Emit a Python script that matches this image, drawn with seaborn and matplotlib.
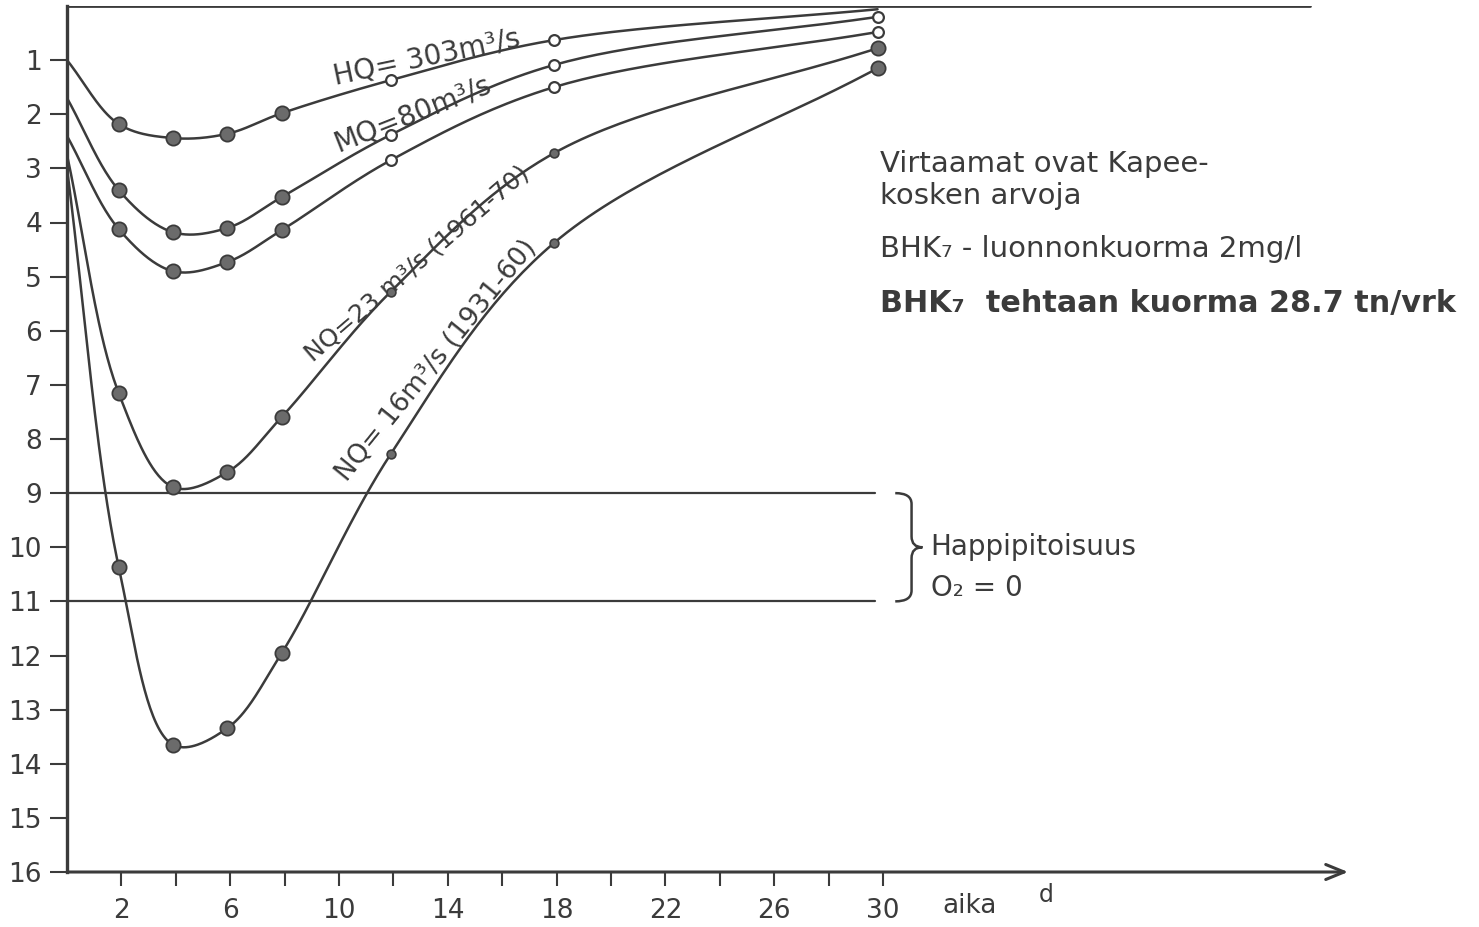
import numpy as np
import pandas as pd
import matplotlib
matplotlib.use("Agg")
import matplotlib.pyplot as plt
from matplotlib.path import Path
from matplotlib.patches import PathPatch
import seaborn as sns

# Days after the discharge point (d) and oxygen deficit (mg/l) for each flow case
days = [0.0, 1.9, 3.9, 5.9, 7.9, 11.9, 17.9, 29.8]
deficit_hq303 = [1.00, 2.18, 2.44, 2.36, 1.98, 1.37, 0.63, 0.06]
deficit_mq80 = [1.70, 3.40, 4.18, 4.10, 3.53, 2.38, 1.09, 0.20]
deficit_mid = [2.40, 4.12, 4.90, 4.73, 4.14, 2.85, 1.50, 0.48]
deficit_nq23 = [2.75, 7.15, 8.89, 8.61, 7.59, 5.28, 2.72, 0.78]
deficit_nq16 = [3.00, 10.36, 13.65, 13.34, 11.95, 8.28, 4.38, 1.15]

curve_names = ["HQ= 303m³/s", "MQ=80m³/s", "", "NQ=23 m³/s (1961-70)", "NQ= 16m³/s (1931-60)"]

y_ticks = list(range(1, 17))
x_major_ticks = [2, 6, 10, 14, 18, 22, 26, 30]
x_minor_ticks = [4, 8, 12, 16, 20, 24, 28]

saturation_level = 0
anoxic_limits = [9, 11]
anoxic_span_end = 29.7
top_line_end = 45.7
x_axis_end = 47.1

note_lines = ["Virtaamat ovat Kapee-", "kosken arvoja",
              "BHK₇ - luonnonkuorma 2mg/l", "BHK₇  tehtaan kuorma 28.7 tn/vrk"]
band_note = ["Happipitoisuus", "O₂ = 0"]
x_caption = "aika"
x_unit = "d"

sns.set_theme(style="white")
plt.rcParams["font.family"] = ["DejaVu Sans"]

ink = "#3b3b3b"
dot_face = "#6b6b6b"

fig = plt.figure(figsize=(14.79, 9.27), dpi=100)
ax = fig.add_axes([67 / 1479, 55 / 927, 1412 / 1479, 866 / 927])
ax.set_xlim(0, 1412 / 27.2)
ax.set_ylim(16, 0)
ax.set_facecolor("white")


def smooth_path(xs, ys, n=40):
    """Centripetal Catmull-Rom curve through the points, built in display space."""
    pts = ax.transData.transform(np.column_stack([xs, ys]))
    ext = np.vstack([2 * pts[0] - pts[1], pts, 2 * pts[-1] - pts[-2]])
    pieces = []
    for i in range(1, len(ext) - 2):
        p0, p1, p2, p3 = ext[i - 1:i + 3]
        t0 = 0.0
        t1 = t0 + np.linalg.norm(p1 - p0) ** 0.5
        t2 = t1 + np.linalg.norm(p2 - p1) ** 0.5
        t3 = t2 + np.linalg.norm(p3 - p2) ** 0.5
        t = np.linspace(t1, t2, n)[:, None]
        a1 = (t1 - t) / (t1 - t0) * p0 + (t - t0) / (t1 - t0) * p1
        a2 = (t2 - t) / (t2 - t1) * p1 + (t - t1) / (t2 - t1) * p2
        a3 = (t3 - t) / (t3 - t2) * p2 + (t - t2) / (t3 - t2) * p3
        b1 = (t2 - t) / (t2 - t0) * a1 + (t - t0) / (t2 - t0) * a2
        b2 = (t3 - t) / (t3 - t1) * a2 + (t - t1) / (t3 - t1) * a3
        c = (t2 - t) / (t2 - t1) * b1 + (t - t1) / (t2 - t1) * b2
        pieces.append(c if i == 1 else c[1:])
    curve = ax.transData.inverted().transform(np.vstack(pieces))
    return curve[:, 0], curve[:, 1]


series = [deficit_hq303, deficit_mq80, deficit_mid, deficit_nq23, deficit_nq16]

# Reference lines: saturation level and the anoxic band
sns.lineplot(x=[0, top_line_end], y=[saturation_level] * 2, color=ink, lw=2.0, ax=ax)
for lvl in anoxic_limits:
    sns.lineplot(x=[0, anoxic_span_end], y=[lvl, lvl], color=ink, lw=1.6, ax=ax)

# Deficit curves and their measurement points
for k, vals in enumerate(series):
    sx, sy = smooth_path(days, vals)
    sns.lineplot(x=sx, y=sy, sort=False, estimator=None, color=ink, lw=1.8, ax=ax)
    df = pd.DataFrame({"day": days, "deficit": vals})
    low_flow = k >= 3
    big = df.iloc[1:5]
    if low_flow:
        big = pd.concat([big, df.iloc[[7]]])
    sns.scatterplot(data=big, x="day", y="deficit", s=105, color=dot_face,
                    edgecolor=ink, linewidth=1.3, zorder=5, ax=ax)
    late = df.iloc[[5, 6]]
    if low_flow:
        sns.scatterplot(data=late, x="day", y="deficit", s=40, color=dot_face,
                        edgecolor=ink, linewidth=1.2, zorder=5, ax=ax)
    else:
        if k in (1, 2):
            late = pd.concat([late, df.iloc[[7]]])
        sns.scatterplot(data=late, x="day", y="deficit", s=60, color="white",
                        edgecolor=ink, linewidth=1.6, zorder=5, ax=ax)

# Curve labels written along the lines
label_spots = [(13.3, 1.10, 11.8, 20), (12.8, 2.13, 21.5, 20), None,
               (13.05, 4.86, 40.6, 18), (13.8, 6.64, 51.0, 19)]
for name, spot in zip(curve_names, label_spots):
    if spot is None:
        continue
    x, y, ang, fs = spot
    ax.text(x, y, name, rotation=ang, rotation_mode="anchor", ha="center",
            va="baseline", fontsize=fs, color=ink)

# Axes: left spine with ticks, bottom axis drawn as an arrow
for side in ["top", "right", "bottom"]:
    ax.spines[side].set_visible(False)
ax.spines["left"].set_color(ink)
ax.spines["left"].set_linewidth(2.4)
ax.set_yticks(y_ticks)
ax.set_yticklabels([str(v) for v in y_ticks])
ax.set_xticks(x_major_ticks)
ax.set_xticklabels([str(v) for v in x_major_ticks])
ax.set_xticks(x_minor_ticks, minor=True)
ax.tick_params(axis="y", direction="out", length=12, width=1.5, pad=6,
               labelsize=19, colors=ink, left=True)
ax.tick_params(axis="x", which="both", direction="out", length=10, width=1.5,
               pad=9, labelsize=19, colors=ink, bottom=True)
ax.set_xlabel("")
ax.set_ylabel("")
ax.grid(False)
ax.annotate("", xy=(x_axis_end, 16), xytext=(0, 16), annotation_clip=False,
            arrowprops=dict(arrowstyle="->,head_length=1.1,head_width=0.45",
                            lw=2.2, color=ink, shrinkA=0, shrinkB=0))
ax.text(33.2, 16.62, x_caption, ha="center", va="center", fontsize=19,
        color=ink, clip_on=False)
ax.text(36.0, 16.42, x_unit, ha="center", va="center", fontsize=17,
        color=ink, clip_on=False)

# Notes on the right
ax.text(29.9, 3.07, note_lines[0], fontsize=21, color=ink, va="baseline")
ax.text(29.9, 3.66, note_lines[1], fontsize=21, color=ink, va="baseline")
ax.text(29.9, 4.64, note_lines[2], fontsize=21, color=ink, va="baseline")
ax.text(29.9, 5.65, note_lines[3], fontsize=21.8, color=ink, va="baseline",
        fontweight="bold")

# Brace marking the anoxic band
y0, y1 = anoxic_limits
ym = (y0 + y1) / 2
xh, xv, xc = 30.45, 31.05, 31.45
verts = [(xh, y0), (xv, y0), (xv, y0 + 0.2),
         (xv, ym - 0.2),
         (xv, ym), (xc, ym),
         (xv, ym), (xv, ym + 0.2),
         (xv, y1 - 0.2),
         (xv, y1), (xh, y1)]
codes = [Path.MOVETO, Path.CURVE3, Path.CURVE3,
         Path.LINETO,
         Path.CURVE3, Path.CURVE3,
         Path.CURVE3, Path.CURVE3,
         Path.LINETO,
         Path.CURVE3, Path.CURVE3]
ax.add_patch(PathPatch(Path(verts, codes), fill=False, edgecolor=ink, lw=1.8,
                       clip_on=False))
ax.text(31.75, 10.0, band_note[0], fontsize=20, color=ink, va="center")
ax.text(31.75, 10.75, band_note[1], fontsize=20, color=ink, va="center")

fig.savefig("out.png", dpi=100, facecolor="white")
